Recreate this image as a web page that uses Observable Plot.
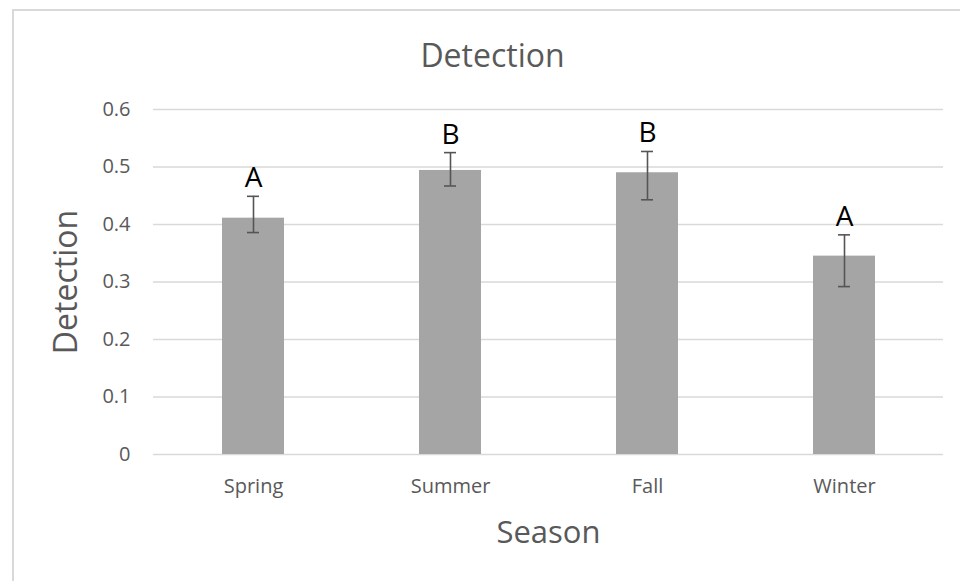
<!DOCTYPE html>
<html>
<head>
<meta charset="utf-8">
<script src="https://cdn.jsdelivr.net/npm/d3@7"></script>
<script src="https://cdn.jsdelivr.net/npm/@observablehq/plot@0.6"></script>
<style>
  html, body { margin: 0; padding: 0; background: #fff; }
  #wrap { position: relative; width: 960px; height: 581px; overflow: hidden; }
  #border { position: absolute; left: 12px; top: 8.5px; width: 1000px; height: 1000px;
            border-left: 2px solid #d9d9d9; border-top: 2px solid #d9d9d9; box-sizing: border-box; }
  #chart { position: absolute; left: 0; top: 0; }
</style>
</head>
<body>
<div id="wrap"><div id="border"></div><div id="chart"></div></div>
<script>
const seasons = ["Spring", "Summer", "Fall", "Winter"];
const detection = [0.411, 0.494, 0.490, 0.345];
const errLow = [0.386, 0.467, 0.443, 0.292];
const errHigh = [0.449, 0.525, 0.527, 0.382];
const letters = ["A", "B", "B", "A"];
const yTicks = [0, 0.1, 0.2, 0.3, 0.4, 0.5, 0.6];

const data = seasons.map((s, i) => ({
  season: s, value: detection[i], lo: errLow[i], hi: errHigh[i], letter: letters[i]
}));

const font = "'Open Sans', sans-serif";
const gray = "#595959";

const chart = Plot.plot({
  width: 960,
  height: 581,
  marginTop: 109,
  marginBottom: 127,
  marginLeft: 153,
  marginRight: 17,
  style: { fontFamily: font, background: "transparent", overflow: "visible" },
  x: { domain: seasons, paddingInner: 0.686, paddingOuter: 0.343 },
  y: { domain: [0, 0.6] },
  marks: [
    Plot.gridY(yTicks, { stroke: "#d9d9d9", strokeOpacity: 1, strokeWidth: 1.5 }),
    Plot.barY(data, { x: "season", y: "value", fill: "#a5a5a5" }),
    Plot.ruleX(data, { x: "season", y1: "lo", y2: "hi", stroke: "#555", strokeWidth: 1.6 }),
    Plot.tickY(data, { x: "season", y: "hi", stroke: "#555", strokeWidth: 1.6, insetLeft: 25, insetRight: 25 }),
    Plot.tickY(data, { x: "season", y: "lo", stroke: "#555", strokeWidth: 1.6, insetLeft: 25, insetRight: 25 }),
    Plot.text(data, { x: "season", y: "hi", text: "letter", dy: -9, lineAnchor: "bottom",
      fontSize: 28, fill: "#000" }),
    Plot.axisY(yTicks, { tickSize: 0, tickPadding: 23, fontSize: 20, color: gray, label: null,
      tickFormat: d => String(d) }),
    Plot.axisX({ tickSize: 0, tickPadding: 24, fontSize: 20, color: gray, label: null }),
    Plot.text(["Detection"], { frameAnchor: "top", dx: -56, dy: -43, lineAnchor: "bottom",
      fontSize: 32, fill: gray }),
    Plot.text(["Season"], { frameAnchor: "bottom", dy: 88.7, lineAnchor: "bottom",
      fontSize: 31, fill: gray }),
    Plot.text(["Detection"], { frameAnchor: "left", dx: -87, rotate: -90, lineAnchor: "middle",
      textAnchor: "middle", fontSize: 32, fill: gray })
  ]
});
document.getElementById("chart").appendChild(chart);
</script>
</body>
</html>
